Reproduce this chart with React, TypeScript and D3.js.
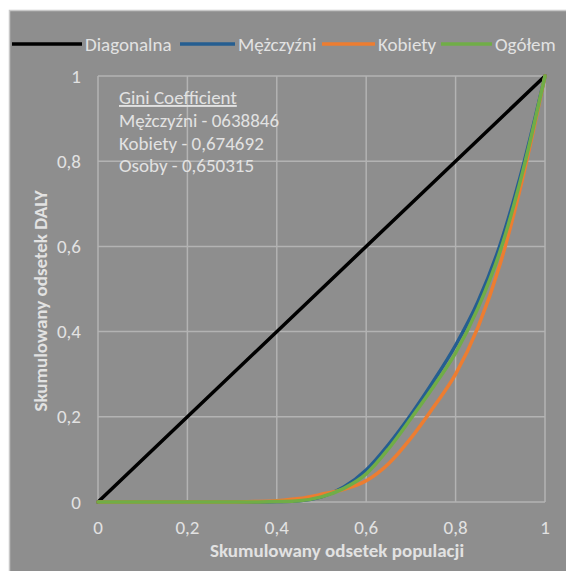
import React from "react";
import * as d3 from "d3";

const xValues = [0, 0.05, 0.1, 0.15, 0.2, 0.25, 0.3, 0.35, 0.4, 0.45, 0.5, 0.55, 0.6, 0.65, 0.7, 0.75, 0.8, 0.85, 0.9, 0.95, 1];
const diagonalna = [0, 1];
const diagX = [0, 1];
const mezczyzni = [0, 0, 0, 0, 0, 0, 0, 0, 0.001, 0.003, 0.012, 0.035, 0.075, 0.135, 0.205, 0.283, 0.368, 0.47, 0.605, 0.785, 1];
const kobiety = [0, 0, 0, 0, 0, 0, 0, 0.001, 0.003, 0.008, 0.018, 0.03, 0.05, 0.09, 0.15, 0.222, 0.3, 0.41, 0.56, 0.76, 1];
const ogolem = [0, 0, 0, 0, 0, 0, 0, 0, 0.001, 0.003, 0.012, 0.032, 0.066, 0.125, 0.196, 0.27, 0.35, 0.455, 0.59, 0.775, 1];

const seriesNames = ["Diagonalna", "Mężczyźni", "Kobiety", "Ogółem"];
const seriesColors = ["#000000", "#255e91", "#ed7d31", "#70ad47"];
const tickValues = [0, 0.2, 0.4, 0.6, 0.8, 1];
const tickLabels = ["0", "0,2", "0,4", "0,6", "0,8", "1"];
const giniLines = ["Mężczyźni - 0638846", "Kobiety - 0,674692", "Osoby - 0,650315"];
const giniTitle = "Gini Coefficient";
const xTitle = "Skumulowany odsetek populacji";
const yTitle = "Skumulowany odsetek DALY";

const FONT = "Carlito, Calibri, Lato, sans-serif";

export default function App() {
  const W = 566, H = 571;
  const x = d3.scaleLinear().domain([0, 1]).range([98, 545]);
  const y = d3.scaleLinear().domain([0, 1]).range([502, 76]);
  const line = d3.line<[number, number]>().x(d => x(d[0])).y(d => y(d[1])).curve(d3.curveMonotoneX);

  const series: [number, number][][] = [
    diagX.map((v, i) => [v, diagonalna[i]]),
    xValues.map((v, i) => [v, mezczyzni[i]]),
    xValues.map((v, i) => [v, kobiety[i]]),
    xValues.map((v, i) => [v, ogolem[i]]),
  ];

  const legendLine = [[12, 82], [180, 235], [322, 375], [441, 492]];
  const textCol = "#e2e2e2";
  const gridCol = "#b3b3b3";
  const fs = 19;

  return (
    <svg width={W} height={H} style={{ position: "absolute", left: 0, top: 0 }} fontFamily={FONT}>
      <rect x={0} y={0} width={W} height={H} fill="#ffffff" />
      <rect x={9.5} y={10.5} width={W} height={H} fill="#8e8e8e" stroke="#c8c8c8" strokeWidth={1.5} />
      {tickValues.map((t, i) => (
        <line key={"gx" + i} x1={x(t)} x2={x(t)} y1={y(0)} y2={y(1)} stroke={gridCol} strokeWidth={1.5} />
      ))}
      {tickValues.map((t, i) => (
        <line key={"gy" + i} x1={x(0)} x2={x(1)} y1={y(t)} y2={y(t)} stroke={gridCol} strokeWidth={1.5} />
      ))}
      {tickValues.map((t, i) => (
        <text key={"ty" + i} x={81} y={y(t)} dy="0.35em" textAnchor="end" fontSize={fs} fill={textCol}>
          {tickLabels[i]}
        </text>
      ))}
      {tickValues.map((t, i) => (
        <text key={"tx" + i} x={x(t)} y={527} dy="0.35em" textAnchor="middle" fontSize={fs} fill={textCol}>
          {tickLabels[i]}
        </text>
      ))}
      {series.map((s, i) => (
        <path key={"s" + i} d={line(s) || ""} fill="none" stroke={seriesColors[i]} strokeWidth={3.5} strokeLinejoin="round" strokeLinecap="round" />
      ))}
      <text x={337} y={550} dy="0.35em" textAnchor="middle" fontSize={fs} fontWeight="bold" fill={textCol}>
        {xTitle}
      </text>
      <text transform={`translate(40,301) rotate(-90)`} dy="0.35em" textAnchor="middle" fontSize={fs} fontWeight="bold" fill={textCol}>
        {yTitle}
      </text>
      {seriesNames.map((n, i) => (
        <g key={"l" + i}>
          <line x1={legendLine[i][0]} x2={legendLine[i][1]} y1={44} y2={44} stroke={seriesColors[i]} strokeWidth={3.5} />
          <text x={legendLine[i][1] + 3} y={44} dy="0.35em" fontSize={fs} fill={textCol}>{n}</text>
        </g>
      ))}
      <text x={119} y={104} fontSize={fs} fill={textCol} textDecoration="underline">{giniTitle}</text>
      {giniLines.map((t, i) => (
        <text key={"g" + i} x={119} y={127 + i * 22.7} fontSize={fs} fill={textCol}>{t}</text>
      ))}
    </svg>
  );
}
